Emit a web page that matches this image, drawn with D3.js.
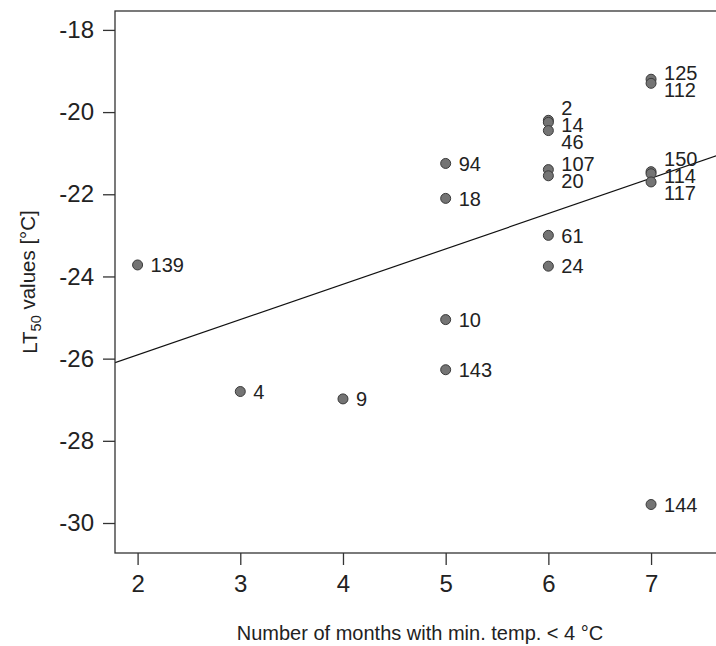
<!DOCTYPE html>
<html>
<head>
<meta charset="utf-8">
<script src="https://cdn.jsdelivr.net/npm/d3@7"></script>
<style>
  body { margin: 0; background: #fff; }
  svg { font-family: "Liberation Sans", Arial, sans-serif; }
</style>
</head>
<body>
<div id="wrapper"></div>
<script>
// site id, months below 4 °C, LT50 value
const siteIds = [139, 4, 9, 94, 18, 10, 143, 2, 14, 46, 107, 20, 61, 24, 125, 112, 150, 114, 117, 144];
const months  = [2, 3, 4, 5, 5, 5, 5, 6, 6, 6, 6, 6, 6, 6, 7, 7, 7, 7, 7, 7];
const lt50    = [-23.72, -26.8, -26.98, -21.25, -22.1, -25.05, -26.27,
                 -20.2, -20.25, -20.45, -21.4, -21.55, -23.0, -23.75,
                 -19.2, -19.3, -21.45, -21.5, -21.7, -29.55];
const xTicks = [2, 3, 4, 5, 6, 7];
const yTicks = [-18, -20, -22, -24, -26, -28, -30];
// fitted line
const fitIntercept = -27.63;
const fitSlope = 0.86;

const data = siteIds.map((id, i) => ({id: id, x: months[i], y: lt50[i]}));

let dimensions = {
  width: 716,
  height: 646,
  margin: {top: 11, right: -9, bottom: 93, left: 115},
};
dimensions.boundedWidth = dimensions.width - dimensions.margin.left - dimensions.margin.right;
dimensions.boundedHeight = dimensions.height - dimensions.margin.top - dimensions.margin.bottom;

const svg = d3.select("#wrapper").append("svg")
  .attr("width", dimensions.width)
  .attr("height", dimensions.height);

const bounds = svg.append("g")
  .attr("transform", `translate(${dimensions.margin.left},${dimensions.margin.top})`);

const xScale = d3.scaleLinear().domain([1.78, 7.72]).range([0, dimensions.boundedWidth]);
const yScale = d3.scaleLinear().domain([-30.73, -17.54]).range([dimensions.boundedHeight, 0]);

bounds.append("clipPath").attr("id", "plot-clip")
  .append("rect")
  .attr("width", dimensions.boundedWidth)
  .attr("height", dimensions.boundedHeight);

// regression line
const x0 = xScale.domain()[0], x1 = xScale.domain()[1];
bounds.append("line")
  .attr("clip-path", "url(#plot-clip)")
  .attr("x1", xScale(x0)).attr("y1", yScale(fitIntercept + fitSlope * x0))
  .attr("x2", xScale(x1)).attr("y2", yScale(fitIntercept + fitSlope * x1))
  .attr("stroke", "#111")
  .attr("stroke-width", 1.2);

// axes
const yAxis = bounds.append("g")
  .call(d3.axisLeft(yScale).tickValues(yTicks).tickSize(12).tickPadding(9).tickFormat(d3.format("d")));
const xAxis = bounds.append("g")
  .attr("transform", `translate(0,${dimensions.boundedHeight})`)
  .call(d3.axisBottom(xScale).tickValues(xTicks).tickSize(12).tickPadding(10).tickFormat(d3.format("d")));

[xAxis, yAxis].forEach(a => {
  a.select(".domain").remove();
  a.selectAll("line").attr("stroke", "#333").attr("stroke-width", 1.3);
  a.selectAll("text").attr("fill", "#222").style("font-size", "24px")
    .style("font-family", "'Liberation Sans', Arial, sans-serif");
});
yAxis.selectAll("text").text(d => d < 0 ? "-" + Math.abs(d) : d);

// box
bounds.append("rect")
  .attr("width", dimensions.boundedWidth)
  .attr("height", dimensions.boundedHeight)
  .attr("fill", "none")
  .attr("stroke", "#333")
  .attr("stroke-width", 1.3);

// points
bounds.append("g").selectAll("circle")
  .data(data)
  .join("circle")
  .attr("cx", d => xScale(d.x))
  .attr("cy", d => yScale(d.y))
  .attr("r", 5)
  .attr("fill", "#747474")
  .attr("stroke", "#3a3a3a")
  .attr("stroke-width", 1);

// spread labels vertically within each month so they do not overlap
const minGap = 17;
data.forEach(d => { d.ly = yScale(d.y); });
d3.groups(data, d => d.x).forEach(([, group]) => {
  group.sort((a, b) => a.ly - b.ly);
  let clusters = group.map(d => ({items: [d], centre: d.ly}));
  let merged = true;
  while (merged) {
    merged = false;
    for (let i = 0; i < clusters.length - 1; i++) {
      const a = clusters[i], b = clusters[i + 1];
      const aBottom = a.centre + (a.items.length - 1) * minGap / 2;
      const bTop = b.centre - (b.items.length - 1) * minGap / 2;
      if (bTop - aBottom < minGap) {
        const items = a.items.concat(b.items);
        clusters.splice(i, 2, {items: items, centre: d3.mean(items, d => yScale(d.y))});
        merged = true;
        break;
      }
    }
  }
  clusters.forEach(c => {
    c.items.forEach((d, i) => {
      d.ly = c.centre + (i - (c.items.length - 1) / 2) * minGap;
    });
  });
});

bounds.append("g").selectAll("text")
  .data(data)
  .join("text")
  .attr("x", d => xScale(d.x) + 13)
  .attr("y", d => d.ly)
  .attr("dy", "0.36em")
  .attr("fill", "#222")
  .style("font-size", "20px")
  .text(d => d.id);

// axis titles
svg.append("text")
  .attr("x", dimensions.margin.left + dimensions.boundedWidth / 2)
  .attr("y", 640)
  .attr("text-anchor", "middle")
  .attr("fill", "#222")
  .style("font-size", "20px")
  .text("Number of months with min. temp. < 4 °C");

const yTitle = svg.append("text")
  .attr("transform", `translate(37,${dimensions.margin.top + dimensions.boundedHeight / 2}) rotate(-90)`)
  .attr("text-anchor", "middle")
  .attr("fill", "#222")
  .style("font-size", "20.5px");
yTitle.append("tspan").text("LT");
yTitle.append("tspan").attr("dy", "0.3em").style("font-size", "14.5px").text("50");
yTitle.append("tspan").attr("dy", "-0.3em").text(" values [°C]");
</script>
</body>
</html>
